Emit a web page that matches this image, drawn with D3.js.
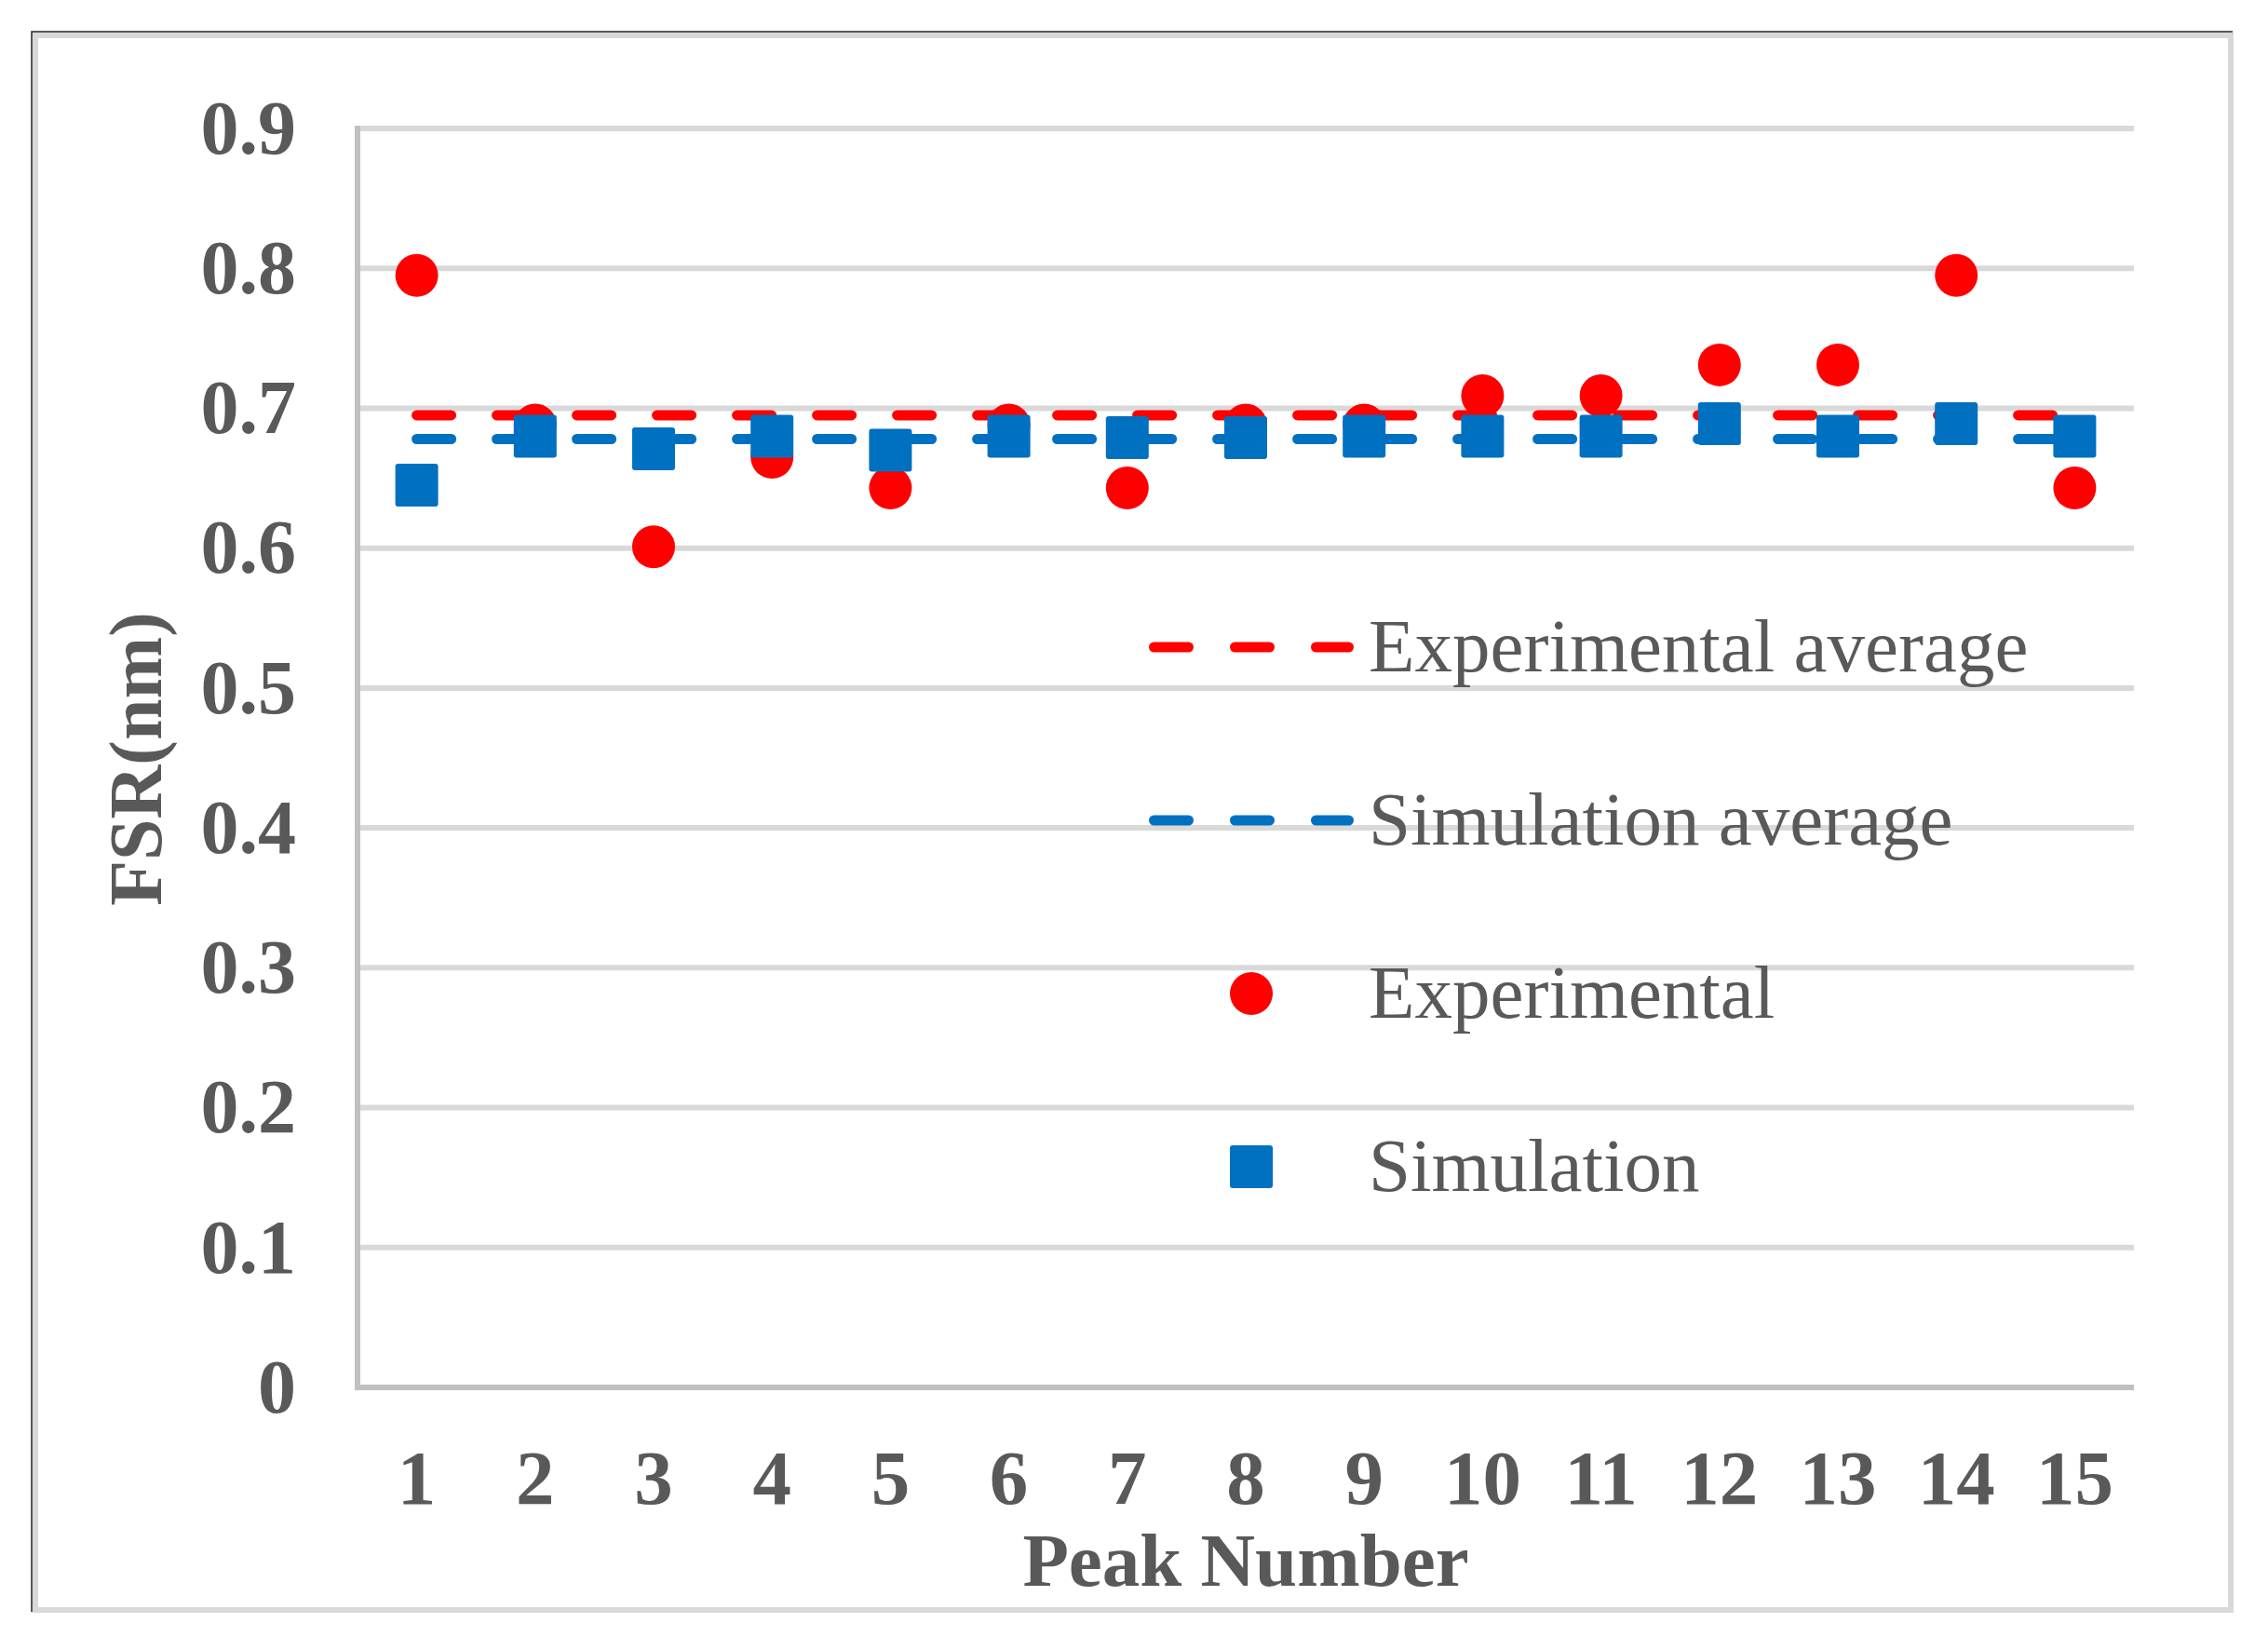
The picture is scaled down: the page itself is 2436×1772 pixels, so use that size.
<!DOCTYPE html>
<html>
<head>
<meta charset="utf-8">
<script src="https://cdn.jsdelivr.net/npm/d3@7"></script>
<style>
  body { margin: 0; background: #fff; }
  svg { display: block; }
</style>
</head>
<body>
<div id="chart"></div>
<script>
// FSR per resonance peak
const peaks = [1, 2, 3, 4, 5, 6, 7, 8, 9, 10, 11, 12, 13, 14, 15];
const experimental = [0.795, 0.688, 0.601, 0.665, 0.643, 0.688, 0.643, 0.688, 0.688, 0.709, 0.709, 0.731, 0.731, 0.795, 0.643];
const simulation = [0.645, 0.680, 0.671, 0.680, 0.670, 0.680, 0.679, 0.679, 0.680, 0.680, 0.680, 0.689, 0.680, 0.689, 0.680];
const experimentalAverage = 0.695;
const simulationAverage = 0.678;
const yTicks = [0, 0.1, 0.2, 0.3, 0.4, 0.5, 0.6, 0.7, 0.8, 0.9];
const legendItems = ["Experimental average", "Simulation average", "Experimental", "Simulation"];

const W = 2436, H = 1772;
const RED = "#ff0000", BLUE = "#0070c0", TEXT = "#595959";
const FONT = "'Liberation Serif', 'Times New Roman', serif";
const PLOT_L = 384, PLOT_R = 2292;

const svg = d3.select("#chart").append("svg")
  .attr("width", W)
  .attr("height", H);

svg.append("rect").attr("width", W).attr("height", H).attr("fill", "#fff");

// outer chart frame
svg.append("rect")
  .attr("x", 38).attr("y", 38)
  .attr("width", 2358).attr("height", 1691)
  .attr("fill", "none")
  .attr("stroke", "#d9d9d9")
  .attr("stroke-width", 6);
svg.append("path")
  .attr("d", "M34,1731V34H2398")
  .attr("fill", "none")
  .attr("stroke", "#222")
  .attr("stroke-width", 1.5);

const x = d3.scaleBand().domain(peaks).range([PLOT_L, PLOT_R]).padding(0);
const cx = d => x(d) + x.bandwidth() / 2;
const y = d3.scaleLinear().domain([0, 0.9]).range([1490, 138]);

// gridlines
svg.append("g")
  .selectAll("line")
  .data(yTicks.filter(t => t > 0))
  .join("line")
  .attr("x1", PLOT_L).attr("x2", PLOT_R)
  .attr("y1", d => y(d)).attr("y2", d => y(d))
  .attr("stroke", "#d9d9d9")
  .attr("stroke-width", 6);

// axis lines
svg.append("line")
  .attr("x1", PLOT_L).attr("x2", PLOT_L)
  .attr("y1", y(0.9) - 3).attr("y2", y(0))
  .attr("stroke", "#c0c0c0").attr("stroke-width", 6);
svg.append("line")
  .attr("x1", PLOT_L - 3).attr("x2", PLOT_R)
  .attr("y1", y(0)).attr("y2", y(0))
  .attr("stroke", "#c0c0c0").attr("stroke-width", 6);

// y axis
const yAxis = svg.append("g")
  .attr("transform", `translate(${PLOT_L},0)`)
  .call(d3.axisLeft(y).tickValues(yTicks).tickSize(0).tickPadding(66)
    .tickFormat(d => d === 0 ? "0" : d3.format(".1f")(d)));
yAxis.select(".domain").remove();
yAxis.selectAll("text")
  .attr("font-family", FONT)
  .attr("font-weight", "bold")
  .attr("font-size", 82)
  .attr("fill", TEXT);

// x axis
const xAxis = svg.append("g")
  .attr("transform", `translate(0,${y(0)})`)
  .call(d3.axisBottom(x).tickSize(0).tickPadding(66));
xAxis.select(".domain").remove();
xAxis.selectAll("text")
  .attr("font-family", FONT)
  .attr("font-weight", "bold")
  .attr("font-size", 83)
  .attr("fill", TEXT);

// axis titles
svg.append("text")
  .attr("x", (PLOT_L + PLOT_R) / 2).attr("y", 1703)
  .attr("text-anchor", "middle")
  .attr("font-family", FONT)
  .attr("font-weight", "bold")
  .attr("font-size", 81)
  .attr("fill", TEXT)
  .text("Peak Number");

svg.append("text")
  .attr("transform", "translate(173,815) rotate(-90)")
  .attr("text-anchor", "middle")
  .attr("font-family", FONT)
  .attr("font-weight", "bold")
  .attr("font-size", 80)
  .attr("fill", TEXT)
  .text("FSR(nm)");

// average lines
const avgLine = (value, color) => svg.append("line")
  .attr("x1", cx(peaks[0])).attr("x2", cx(peaks[peaks.length - 1]))
  .attr("y1", y(value)).attr("y2", y(value))
  .attr("stroke", color)
  .attr("stroke-width", 11)
  .attr("stroke-linecap", "round")
  .attr("stroke-dasharray", "37,49");
avgLine(experimentalAverage, RED);
avgLine(simulationAverage, BLUE);

// points
svg.append("g")
  .selectAll("circle")
  .data(experimental)
  .join("circle")
  .attr("cx", (d, i) => cx(peaks[i]))
  .attr("cy", d => y(d))
  .attr("r", 23)
  .attr("fill", RED);

svg.append("g")
  .selectAll("rect")
  .data(simulation)
  .join("rect")
  .attr("x", (d, i) => cx(peaks[i]) - 23)
  .attr("y", d => y(d) - 23)
  .attr("width", 46).attr("height", 46)
  .attr("rx", 3)
  .attr("fill", BLUE);

// legend
const legend = svg.append("g");
const legendY = i => 695 + i * 186;
legendItems.forEach((name, i) => {
  const g = legend.append("g").attr("transform", `translate(0,${legendY(i)})`);
  if (i < 2) {
    g.append("line")
      .attr("x1", 1239.5).attr("x2", 1448.5)
      .attr("stroke", i === 0 ? RED : BLUE)
      .attr("stroke-width", 11)
      .attr("stroke-linecap", "round")
      .attr("stroke-dasharray", "37,50");
  } else if (i === 2) {
    g.append("circle").attr("cx", 1344).attr("r", 23).attr("fill", RED);
  } else {
    g.append("rect").attr("x", 1321).attr("y", -23)
      .attr("width", 46).attr("height", 46).attr("rx", 3).attr("fill", BLUE);
  }
  g.append("text")
    .attr("x", 1470).attr("y", 26)
    .attr("font-family", FONT)
    .attr("font-size", 81)
    .attr("fill", TEXT)
    .text(name);
});
</script>
</body>
</html>
